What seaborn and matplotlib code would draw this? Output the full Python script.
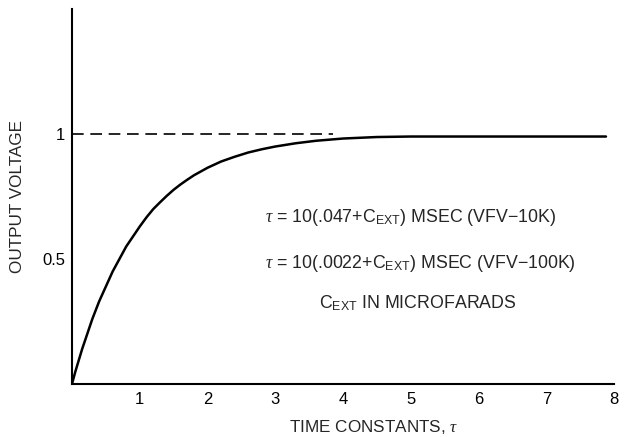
import matplotlib
matplotlib.use('Agg')
import matplotlib.pyplot as plt
import seaborn as sns
import pandas as pd

# values
time_constants = [0, 0.05, 0.1, 0.15, 0.2, 0.3, 0.4, 0.5, 0.6, 0.7, 0.8, 0.9, 1.0,
                  1.1, 1.2, 1.3, 1.4, 1.5, 1.6, 1.7, 1.8, 1.9, 2.0, 2.2, 2.4, 2.6,
                  2.8, 3.0, 3.3, 3.6, 4.0, 4.5, 5.0, 6.0, 7.0, 7.88]
output_voltage = [0, 0.05, 0.095, 0.14, 0.18, 0.26, 0.33, 0.39, 0.45, 0.50, 0.55, 0.59, 0.63,
                  0.667, 0.70, 0.727, 0.753, 0.777, 0.798, 0.817, 0.835, 0.85, 0.865, 0.89,
                  0.909, 0.926, 0.939, 0.95, 0.963, 0.973, 0.982, 0.988, 0.99, 0.99, 0.99, 0.99]
ref_x = [0, 3.85]
ref_y = [1, 1]

x_ticks = [1, 2, 3, 4, 5, 6, 7, 8]
y_ticks = [0.25, 0.5, 0.75, 1.0, 1.25]
y_tick_labels = ['', '0.5', '', '1', '']

notes = [
    r'$\tau$ = 10(.047+C$_{\mathregular{EXT}}$) MSEC (VFV$-$10K)',
    r'$\tau$ = 10(.0022+C$_{\mathregular{EXT}}$) MSEC (VFV$-$100K)',
    r'C$_{\mathregular{EXT}}$ IN MICROFARADS',
]

sns.set_style('white')
plt.rcParams['font.family'] = ['Liberation Sans', 'DejaVu Sans']
plt.rcParams['mathtext.fontset'] = 'custom'
plt.rcParams['mathtext.rm'] = 'Liberation Sans'
plt.rcParams['mathtext.it'] = 'Liberation Serif:italic'

df = pd.DataFrame({'t': time_constants, 'v': output_voltage})
ref = pd.DataFrame({'t': ref_x, 'v': ref_y})

fig = plt.figure(figsize=(6.26, 4.37), dpi=100)
ax = fig.add_axes([0.115, 0.1213, 0.866, 0.858])

sns.lineplot(data=ref, x='t', y='v', ax=ax, color='black', linewidth=1.2,
             linestyle=(0, (7, 4)))
sns.lineplot(data=df, x='t', y='v', ax=ax, color='black', linewidth=1.8)

ax.set_xlim(0, 8.0)
ax.set_ylim(0, 1.5)
ax.set_xticks(x_ticks)
ax.set_yticks(y_ticks)
ax.set_yticklabels(y_tick_labels)
ax.tick_params(axis='both', direction='in', length=6, width=1.2,
               colors='black', labelsize=12)
ax.tick_params(axis='x', pad=6)
ax.tick_params(axis='y', pad=5)

for side in ['top', 'right']:
    ax.spines[side].set_visible(False)
for side in ['left', 'bottom']:
    ax.spines[side].set_color('black')
    ax.spines[side].set_linewidth(1.5)

ax.set_xlabel(r'TIME CONSTANTS, $\tau$', fontsize=12.3, va='top')
ax.xaxis.set_label_coords(0.556, -0.09)
ax.set_ylabel('OUTPUT VOLTAGE', fontsize=12.3)
ax.yaxis.set_label_coords(-0.087, 0.5)

ax.text(2.85, 0.648, notes[0], fontsize=12.8, va='baseline', ha='left')
ax.text(2.85, 0.464, notes[1], fontsize=12.8, va='baseline', ha='left')
ax.text(5.11, 0.304, notes[2], fontsize=12.8, va='baseline', ha='center')

fig.savefig('out.png', dpi=100)
